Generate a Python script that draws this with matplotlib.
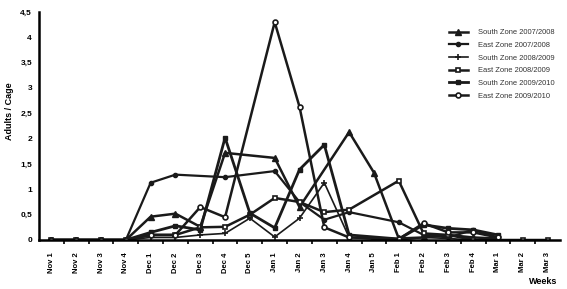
import numpy as np
import matplotlib
matplotlib.use('Agg')
import matplotlib.pyplot as plt

nan = np.nan

# weekly categories on the x axis
weeks = ['Nov 1', 'Nov 2', 'Nov 3', 'Nov 4',
         'Dec 1', 'Dec 2', 'Dec 3', 'Dec 4', 'Dec 5',
         'Jan 1', 'Jan 2', 'Jan 3', 'Jan 4', 'Jan 5',
         'Feb 1', 'Feb 2', 'Feb 3', 'Feb 4',
         'Mar 1', 'Mar 2', 'Mar 3']

south_0708 = [0, 0, 0, 0, 0.46, 0.52, 0.26, 1.72, nan, 1.62, 0.65, nan, 2.13, 1.33,
              0.03, 0.05, 0.10, 0.05, 0.03, nan, nan]
east_0708 = [0, 0, 0, 0, 1.13, 1.29, nan, 1.24, nan, 1.36, 0.75, 0.40, 0.55, nan,
             0.35, 0.10, 0.05, 0.20, 0.05, nan, nan]
south_0809 = [0, 0, 0, 0, 0.05, 0.05, 0.10, 0.13, 0.43, 0.06, 0.43, 1.13, 0.05, 0.02,
              0.00, 0.05, 0.03, 0.00, 0.00, nan, nan]
east_0809 = [0, 0, 0, 0, 0.10, 0.10, 0.25, 0.26, 0.50, 0.83, 0.75, 0.55, 0.60, nan,
             1.17, 0.13, 0.10, 0.00, 0.00, 0, 0]
south_0910 = [0, 0, 0, 0, 0.15, 0.28, 0.20, 2.02, 0.53, 0.24, 1.39, 1.88, 0.10, nan,
              0.02, 0.30, 0.23, 0.20, 0.10, nan, nan]
east_0910 = [0, 0, 0, 0, 0.10, 0.10, 0.65, 0.45, nan, 4.30, 2.63, 0.25, 0.05, nan,
             0.02, 0.33, 0.15, 0.15, 0.05, nan, nan]

series_names = ['South Zone 2007/2008', 'East Zone 2007/2008', 'South Zone 2008/2009',
                'East Zone 2008/2009', 'South Zone 2009/2010', 'East Zone 2009/2010']
series_values = [south_0708, east_0708, south_0809, east_0809, south_0910, east_0910]

# marker style per series
styles = [dict(marker='^', ms=4, mfc='#1a1a1a', lw=1.8),
          dict(marker='o', ms=3, mfc='#1a1a1a', lw=1.6),
          dict(marker='+', ms=4, mew=1.2, lw=1.2),
          dict(marker='s', ms=3.5, mfc='white', mew=1.2, lw=1.8),
          dict(marker='s', ms=3.5, mfc='#1a1a1a', lw=2.0),
          dict(marker='o', ms=3.5, mfc='white', mew=1.2, lw=1.8)]

plt.rcParams['font.family'] = ['Liberation Sans', 'DejaVu Sans']

fig = plt.figure(figsize=(5.67, 2.89), dpi=100)
ax = fig.add_axes([39 / 567, 1 - 240 / 289, 521 / 567, 228 / 289])

x = np.arange(len(weeks))
for name, vals, st in zip(series_names, series_values, styles):
    v = np.array(vals, dtype=float)
    ok = ~np.isnan(v)
    ax.plot(x[ok], v[ok], color='#1a1a1a', mec='#1a1a1a', label=name, **st)

ax.set_xlim(-0.5, len(weeks) - 0.5)
ax.set_ylim(0, 4.5)

yt = np.arange(0, 4.51, 0.5)
ax.set_yticks(yt)
ax.set_yticklabels([('%g' % t).replace('.', ',') for t in yt], fontsize=6, fontweight='bold')
ax.tick_params(axis='y', length=0, pad=5)

ax.set_xticks(x)
ax.set_xticklabels(weeks, rotation=90, fontsize=5.5, fontweight='bold')
ax.set_xticks(x[:-1] + 0.5, minor=True)
ax.tick_params(axis='x', which='major', length=0, pad=9)
ax.tick_params(axis='x', which='minor', length=3, width=1.2, direction='out')

for side in ['top', 'right']:
    ax.spines[side].set_visible(False)
ax.spines['left'].set_linewidth(1.8)
ax.spines['bottom'].set_linewidth(1.8)

fig.text(10 / 567, 1 - 111 / 289, 'Adults / Cage', rotation=90, fontsize=6.5,
         fontweight='bold', ha='center', va='center')
fig.text(543 / 567, 1 - 282 / 289, 'Weeks', fontsize=6.5, fontweight='bold',
         ha='center', va='center')

ax.legend(loc='upper left', bbox_to_anchor=(449 / 567, 1 - 29 / 289),
          bbox_transform=fig.transFigure, frameon=False, fontsize=5.4,
          handlelength=2.5, handletextpad=1.3, labelspacing=0.72,
          borderpad=0, borderaxespad=0, labelcolor='#333333')

fig.savefig('out.png', dpi=100)
